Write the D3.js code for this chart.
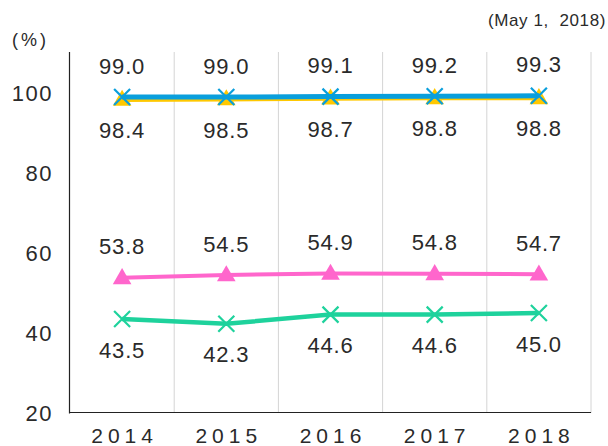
<!DOCTYPE html>
<html><head><meta charset="utf-8">
<script src="https://cdn.jsdelivr.net/npm/d3@7"></script>
<style>body{margin:0;background:#fff}svg{display:block}</style>
</head><body>
<svg id="c" width="608" height="446"></svg>
<script>
const years = ["2014","2015","2016","2017","2018"];
const blueVals = [99.0, 99.0, 99.1, 99.2, 99.3];
const yellowVals = [98.4, 98.5, 98.7, 98.8, 98.8];
const pinkVals = [53.8, 54.5, 54.9, 54.8, 54.7];
const greenVals = [43.5, 42.3, 44.6, 44.6, 45.0];
const yTicks = [20, 40, 60, 80, 100];

const svg = d3.select("#c");
const font = "'Liberation Sans', Arial, sans-serif";
const x = d3.scaleBand().domain(years).range([70, 591]);
const y = d3.scaleLinear().domain([20, 110.25]).range([413, 52]);
const cx = d => x(d) + x.bandwidth()/2;

// vertical gridlines
svg.append("g").selectAll("line").data(years).join("line")
  .attr("x1", d => x(d) + x.bandwidth()).attr("x2", d => x(d) + x.bandwidth())
  .attr("y1", y(110.25)).attr("y2", y(20))
  .attr("stroke", "#d4d4d4").attr("stroke-width", 1);

// axes
svg.append("line").attr("x1", 69.5).attr("x2", 69.5).attr("y1", y(110.25)).attr("y2", y(20)+0.5)
  .attr("stroke", "#222").attr("stroke-width", 1.2);
svg.append("line").attr("x1", 69.5).attr("x2", 591).attr("y1", y(20)-0.5).attr("y2", y(20)-0.5)
  .attr("stroke", "#222").attr("stroke-width", 1.2);

// y tick labels
svg.append("g").selectAll("text").data(yTicks).join("text")
  .attr("x", 53).attr("y", d => y(d)).attr("text-anchor", "end").attr("dominant-baseline", "central")
  .attr("font-family", font).attr("font-size", 22).attr("letter-spacing", 1.5).attr("fill", "#2a2a2a")
  .text(d => d);

// x tick labels
svg.append("g").selectAll("text").data(years).join("text")
  .attr("x", d => cx(d) + 2.5).attr("y", 435).attr("text-anchor", "middle").attr("dominant-baseline", "central")
  .attr("font-family", font).attr("font-size", 21).attr("letter-spacing", 5).attr("fill", "#2a2a2a")
  .text(d => d);

svg.append("text").attr("x", 12).attr("y", 40).attr("dominant-baseline", "central")
  .attr("font-family", font).attr("font-size", 18).attr("letter-spacing", 3).attr("fill", "#2a2a2a").text("(%)");
svg.append("text").attr("x", 606).attr("y", 20).attr("text-anchor", "end").attr("dominant-baseline", "central")
  .attr("font-family", font).attr("font-size", 17).attr("letter-spacing", 0.6).attr("fill", "#2a2a2a")
  .attr("style", "white-space:pre").text("(May 1,  2018)");

const series = [
  {vals: yellowVals, color: "#ffc800", w: 5, marker: "tri", off: 31},
  {vals: blueVals, color: "#0a9fdc", w: 5, marker: "x", off: -31},
  {vals: pinkVals, color: "#ff66cc", w: 4, marker: "tri", off: -31},
  {vals: greenVals, color: "#1ed29c", w: 4.5, marker: "x", off: 31}
];
const line = d3.line().x(d => cx(d.k)).y(d => y(d.v));
series.forEach(s => {
  const pts = years.map((k, i) => ({k, v: s.vals[i]}));
  svg.append("path").datum(pts).attr("d", line).attr("fill", "none")
    .attr("stroke", s.color).attr("stroke-width", s.w);
  const g = svg.append("g");
  if (s.marker === "tri") {
    g.selectAll("path").data(pts).join("path")
      .attr("d", d3.symbol(d3.symbolTriangle, 150)())
      .attr("transform", d => `translate(${cx(d.k)},${y(d.v)+1})`)
      .attr("fill", s.color);
  } else {
    g.selectAll("path").data(pts).join("path")
      .attr("d", "M-8,-8L8,8M-8,8L8,-8")
      .attr("transform", d => `translate(${cx(d.k)},${y(d.v)})`)
      .attr("stroke", s.color).attr("stroke-width", 2.2).attr("fill", "none");
  }
  svg.append("g").selectAll("text").data(pts).join("text")
    .attr("x", d => cx(d.k)).attr("y", d => y(d.v) + s.off)
    .attr("text-anchor", "middle").attr("dominant-baseline", "central")
    .attr("font-family", font).attr("font-size", 22).attr("letter-spacing", 0.8).attr("fill", "#2a2a2a")
    .text(d => d.v.toFixed(1));
});
</script>
</body></html>
